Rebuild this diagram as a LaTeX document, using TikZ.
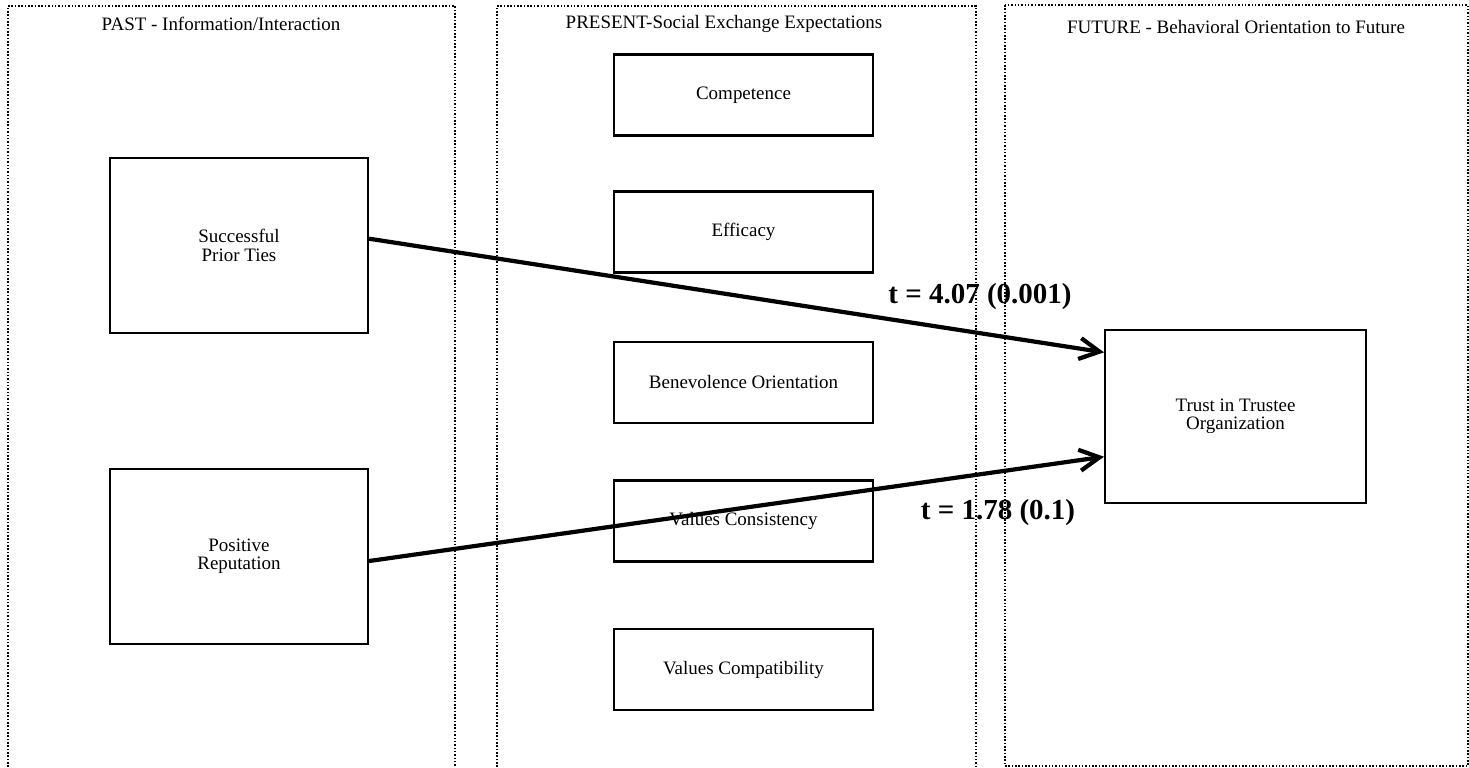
\documentclass[tikz,border=0pt]{standalone}
\usepackage{fontspec}
\setmainfont{Liberation Serif}
\usetikzlibrary{arrows.meta}
\begin{document}
\begin{tikzpicture}[x=0.02cm, y=-0.02cm,
    panel/.style={densely dotted, line width=0.9pt},
    head/.style={font=\fontsize{10.8}{12}\selectfont},
    box/.style={draw, line width=1.2pt, align=center, font=\fontsize{10.8}{10.5}\selectfont},
    wide/.style={box, minimum width=5.16cm, minimum height=3.5cm},
    small/.style={box, minimum width=5.18cm, minimum height=1.62cm},
    link/.style={line width=2.4pt, -{Straight Barb[length=4mm, width=4.2mm]}},
    tval/.style={font=\bfseries\fontsize{16.5}{18}\selectfont}]
  \useasboundingbox (0,0) rectangle (1469,767);
  % Panels
  \draw[panel] (8,767) -- (8,6) -- (455,6) -- (455,767);
  \draw[panel] (497,767) -- (497,6) -- (976,6) -- (976,767);
  \draw[panel] (1005,5) rectangle (1468,766);
  \node (past)    at (221,24)  [head] {PAST - Information/Interaction};
  \node (present) at (724,24)  [head] {PRESENT-Social Exchange Expectations};
  \node (future)  at (1236,27) [head] {FUTURE - Behavioral Orientation to Future};
  % Nodes (top to bottom)
  \node (prior)   at (239,245.5)   [wide] {Successful\\Prior Ties};
  \node (reput)   at (239,556.5)   [wide] {Positive\\Reputation};
  \node (compet)  at (743.5,95)    [small] {Competence};
  \node (effic)   at (743.5,232)   [small] {Efficacy};
  \node (benev)   at (743.5,382.5) [small] {Benevolence Orientation};
  \node (valcons) at (743.5,521)   [small] {Values Consistency};
  \node (valcomp) at (743.5,669.5) [small] {Values Compatibility};
  \node (trust)   at (1235.5,416.5) [box, minimum width=5.22cm, minimum height=3.46cm,
                                     font=\fontsize{10.8}{10}\selectfont] {Trust in Trustee\\Organization};
  % Edges
  \draw[link] (prior.3) -- (trust.154);
  \draw[link] (reput.-2) -- (trust.197);
  \node (tprior) at (980,297) [tval] {t = 4.07 (0.001)};
  \node (treput) at (998,513) [tval] {t = 1.78 (0.1)};
\end{tikzpicture}
\end{document}
